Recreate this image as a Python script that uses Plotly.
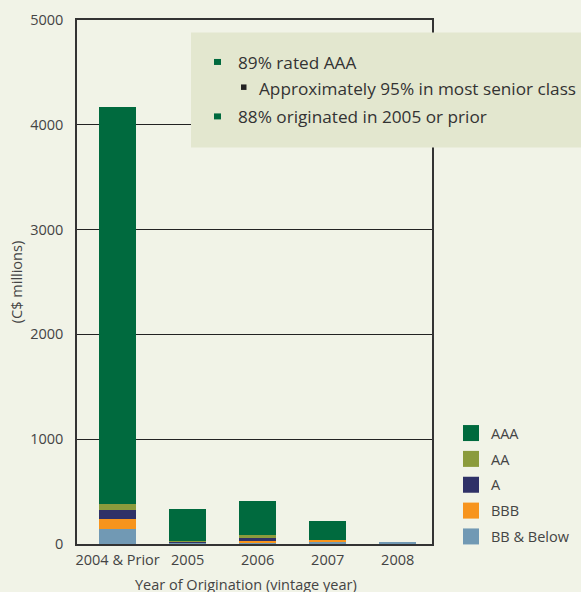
import plotly.graph_objects as go

categories = ["2004 & Prior", "2005", "2006", "2007", "2008"]
ratings = ["BB & Below", "BBB", "A", "AA", "AAA"]
bb_below = [143, 14, 19, 24, 10]
bbb = [96, 0, 13, 14, 0]
a_rated = [86, 10, 29, 0, 0]
aa = [57, 6, 29, 0, 0]
aaa = [3790, 304, 321, 182, 0]
series = [bb_below, bbb, a_rated, aa, aaa]
colors = ["#7199b4", "#f7941d", "#2f3167", "#8b9b3c", "#006a3e"]

notes = ["89% rated AAA", "Approximately 95% in most senior class", "88% originated in 2005 or prior"]
x_title = "Year of Origination (vintage year)"
y_title = "(C$ millions)"

W, H = 581, 592
L, R, T, B = 77, 149, 19.5, 48
PW, PH = W - L - R, H - T - B

def px_x(p):
    return (p - L) / PW

def px_y(p):
    return (H - B - p) / PH

bg = "#f1f3e7"
font = "Open Sans"
fig = go.Figure()

for name, vals, col in zip(ratings, series, colors):
    fig.add_trace(go.Bar(x=categories, y=vals, name=name, marker=dict(color=col, line=dict(width=0)),
                         width=0.53, showlegend=False))

for name, col in reversed(list(zip(ratings, colors))):
    fig.add_trace(go.Scatter(x=[None], y=[None], mode="markers", name=name, legendgroup=name,
                             marker=dict(symbol="square", size=18, color=col)))

shapes = [
    dict(type="rect", xref="paper", yref="paper", x0=px_x(191), x1=px_x(600), y0=px_y(147), y1=px_y(32),
         fillcolor="#e3e7cf", line=dict(width=0), layer="above"),
    dict(type="rect", xref="paper", yref="paper", x0=px_x(214), x1=px_x(221), y0=px_y(64.5), y1=px_y(58.5),
         fillcolor="#006a3e", line=dict(width=0), layer="above"),
    dict(type="rect", xref="paper", yref="paper", x0=px_x(241), x1=px_x(246.5), y0=px_y(89.5), y1=px_y(84),
         fillcolor="#222222", line=dict(width=0), layer="above"),
    dict(type="rect", xref="paper", yref="paper", x0=px_x(214), x1=px_x(221), y0=px_y(119), y1=px_y(113),
         fillcolor="#006a3e", line=dict(width=0), layer="above"),
]

afont = dict(family=font, size=17.2, color="#333333")
annotations = [
    dict(text=notes[0], x=px_x(236), y=px_y(62), xref="paper", yref="paper", xanchor="left", yanchor="middle",
         showarrow=False, font=afont),
    dict(text=notes[1], x=px_x(257), y=px_y(88), xref="paper", yref="paper", xanchor="left", yanchor="middle",
         showarrow=False, font=afont),
    dict(text=notes[2], x=px_x(236), y=px_y(116), xref="paper", yref="paper", xanchor="left", yanchor="middle",
         showarrow=False, font=afont),
    dict(text=x_title, x=px_x(245.6), y=px_y(585), xref="paper", yref="paper", xanchor="center",
         yanchor="middle", showarrow=False, font=dict(family=font, size=14.5, color="#444444")),
]

fig.update_layout(
    width=W, height=H, autosize=False,
    margin=dict(l=L, r=R, t=T, b=B, pad=0, autoexpand=False),
    paper_bgcolor=bg, plot_bgcolor=bg,
    barmode="stack",
    font=dict(family=font, size=14.5, color="#444444"),
    showlegend=True,
    legend=dict(x=px_x(451), y=px_y(417), xanchor="left", yanchor="top", bgcolor="rgba(0,0,0,0)",
                traceorder="grouped", tracegroupgap=4, font=dict(size=14.5, color="#444444"),
                itemwidth=30),
    shapes=shapes,
    annotations=annotations,
    xaxis=dict(showline=True, linecolor="#333333", linewidth=1.5, mirror=True, showgrid=False,
               range=[-0.58, 4.49],
               ticks="outside", ticklen=2, tickcolor=bg, automargin=False),
    yaxis=dict(range=[0, 5000], dtick=1000, showline=True, linecolor="#333333", linewidth=1.5, mirror=True,
               showgrid=True, gridcolor="#222222", gridwidth=1, zeroline=False, automargin=False,
               ticks="outside", ticklen=9, tickcolor=bg,
               title=dict(text=y_title, standoff=4, font=dict(size=14.5, color="#444444"))),
)

fig.write_html("out.html", config={"displayModeBar": False},
               post_script="document.body.style.margin='0';document.body.style.overflow='hidden';")
